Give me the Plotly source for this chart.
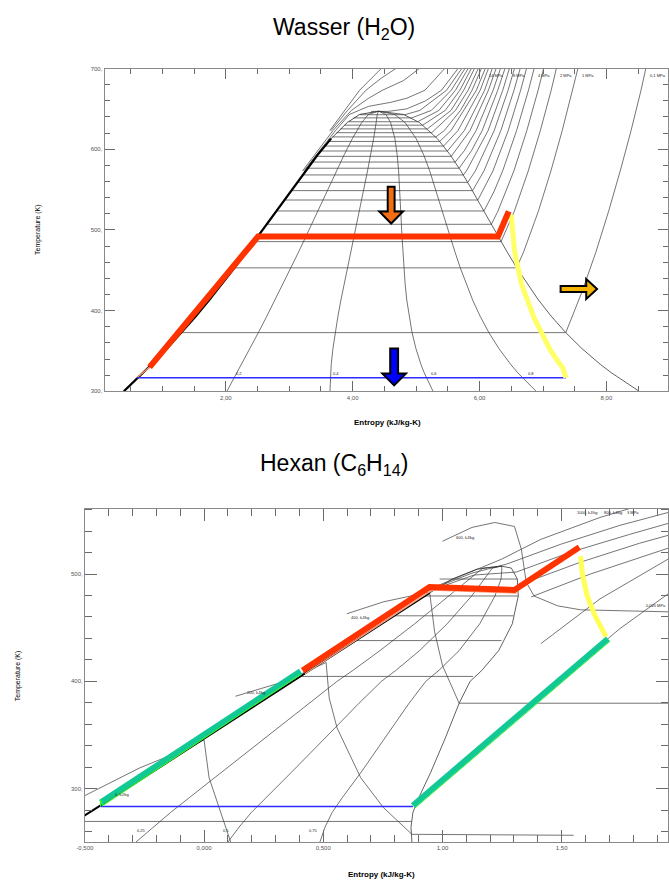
import plotly.graph_objects as go

# ---------------- Wasser (H2O) ----------------
# saturation curve
W_SAT_T = [300.0, 313.15, 323.15, 333.15, 353.15, 373.15, 393.15, 413.15, 433.15, 453.15,
           473.15, 493.15, 513.15, 533.15, 553.15, 573.15, 593.15, 613.15, 633.15, 643.15, 647.1]
W_SAT_SF = [0.393, 0.572, 0.704, 0.831, 1.075, 1.307, 1.528, 1.739, 1.943, 2.139,
            2.331, 2.518, 2.702, 2.884, 3.067, 3.254, 3.449, 3.660, 3.916, 4.111, 4.407]
W_SAT_SG = [8.517, 8.256, 8.075, 7.908, 7.611, 7.354, 7.129, 6.929, 6.750, 6.585,
            6.431, 6.283, 6.140, 5.998, 5.855, 5.705, 5.537, 5.336, 5.053, 4.800, 4.407]
W_LIQ_THICK_END = 17   # thick liquid line drawn up to 613 K

# isobars (MPa) with saturation data
W_P = [0.1, 1, 2, 3, 4, 5, 6, 7, 8, 9, 10, 11, 12, 13, 14, 15, 16, 17, 18, 19, 20, 21, 22]
W_P_TSAT = [372.76, 453.03, 485.53, 507.00, 523.50, 537.09, 548.73, 558.98, 568.16, 576.48,
            584.15, 591.23, 597.83, 603.95, 609.66, 615.31, 620.51, 625.24, 629.84, 634.09,
            638.90, 642.78, 646.90]
W_P_SF = [1.303, 2.138, 2.447, 2.646, 2.797, 2.921, 3.028, 3.122, 3.208, 3.287, 3.360, 3.430,
          3.496, 3.561, 3.623, 3.685, 3.746, 3.808, 3.872, 3.940, 4.015, 4.110, 4.290]
# superheated branches (T in K, s in kJ/kg-K), starting at saturated vapour
W_SH_T = [
    [372.76, 423.15, 473.15, 523.15, 573.15, 623.15, 673.15, 700.0],
    [453.03, 473.15, 523.15, 573.15, 623.15, 673.15, 700.0],
    [485.53, 523.15, 573.15, 623.15, 673.15, 700.0],
    [507.00, 523.15, 573.15, 623.15, 673.15, 700.0],
    [523.50, 548.15, 573.15, 623.15, 673.15, 700.0],
    [537.09, 573.15, 623.15, 673.15, 700.0],
    [548.73, 573.15, 623.15, 673.15, 700.0],
    [558.98, 573.15, 623.15, 673.15, 700.0],
    [568.16, 573.15, 623.15, 673.15, 700.0],
    [576.48, 598.15, 623.15, 673.15, 700.0],
    [584.15, 598.15, 623.15, 673.15, 700.0],
    [591.23, 623.15, 673.15, 700.0],
    [597.83, 623.15, 673.15, 700.0],
    [603.95, 623.15, 673.15, 700.0],
    [609.66, 623.15, 673.15, 700.0],
    [615.31, 623.15, 648.15, 673.15, 700.0],
    [620.51, 648.15, 673.15, 700.0],
    [625.24, 648.15, 673.15, 700.0],
    [629.84, 648.15, 673.15, 700.0],
    [634.09, 648.15, 673.15, 700.0],
    [638.90, 648.15, 673.15, 700.0],
    [642.78, 648.15, 673.15, 700.0],
    [646.90, 650.0, 660.0, 673.15, 700.0],
]
W_SH_S = [
    [7.359, 7.614, 7.836, 8.034, 8.217, 8.388, 8.545, 8.620],
    [6.585, 6.696, 6.927, 7.125, 7.303, 7.467, 7.550],
    [6.339, 6.548, 6.768, 6.958, 7.129, 7.210],
    [6.186, 6.289, 6.541, 6.745, 6.923, 7.010],
    [6.070, 6.231, 6.364, 6.584, 6.771, 6.860],
    [5.974, 6.211, 6.452, 6.648, 6.740],
    [5.890, 6.070, 6.336, 6.543, 6.640],
    [5.815, 5.934, 6.231, 6.450, 6.550],
    [5.745, 5.794, 6.135, 6.366, 6.470],
    [5.679, 5.873, 6.042, 6.287, 6.400],
    [5.616, 5.760, 5.946, 6.214, 6.330],
    [5.554, 5.850, 6.140, 6.260],
    [5.494, 5.760, 6.080, 6.200],
    [5.434, 5.660, 6.010, 6.140],
    [5.372, 5.550, 5.950, 6.090],
    [5.311, 5.444, 5.700, 5.882, 6.030],
    [5.246, 5.620, 5.820, 5.980],
    [5.178, 5.550, 5.750, 5.920],
    [5.104, 5.460, 5.690, 5.870],
    [5.025, 5.360, 5.620, 5.820],
    [4.933, 5.240, 5.554, 5.770],
    [4.820, 5.060, 5.480, 5.720],
    [4.560, 4.850, 5.150, 5.400, 5.660],
]
# supercritical isobars (25, 30, 35, 40 MPa)
W_SC_T = [
    [573.15, 623.15, 643.15, 653.15, 658.15, 663.15, 673.15, 700.0],
    [573.15, 623.15, 648.15, 663.15, 673.15, 685.0, 700.0],
    [623.15, 648.15, 673.15, 688.0, 700.0],
    [623.15, 673.15, 700.0],
]
W_SC_S = [
    [3.23, 3.73, 3.95, 4.25, 4.60, 4.85, 5.14, 5.45],
    [3.21, 3.69, 3.98, 4.25, 4.47, 4.80, 5.05],
    [3.66, 3.92, 4.21, 4.45, 4.68],
    [3.64, 4.11, 4.45],
]
W_QUALITY = [0.2, 0.4, 0.6, 0.8]
W_QUALITY_TXT = ["0,2", "0,4", "0,6", "0,8"]
W_P_LABELLED = [0, 1, 2, 4, 8, 14]

# Rankine cycle
W_RED_S = [0.80, 2.51, 6.29, 6.46]
W_RED_T = [330.0, 492.0, 492.0, 523.0]
W_YEL_S = [6.50, 6.55, 6.66, 6.86, 7.12, 7.32, 7.36]
W_YEL_T = [519.0, 474.0, 433.0, 391.0, 350.5, 328.0, 316.8]
W_BLUE_S = [7.36, 0.60]
W_BLUE_T = [316.8, 316.8]
W_PUMP_S = [0.60, 0.80]
W_PUMP_T = [316.8, 330.0]

# ---------------- Hexan (C6H14) ----------------
H_LIQ_S = [-0.714, -0.50, -0.434, 0.393, 0.946]
H_LIQ_T = [250.0, 275.0, 284.3, 402.8, 482.4]
H_TOP_S = [0.946, 1.041, 1.145, 1.248]
H_TOP_T = [482.4, 495.4, 504.6, 507.4]
H_SAT_T = [250.0, 263.9, 277.8, 291.7, 314.8, 347.2, 379.6, 400.0, 410.2, 428.7,
           453.7, 479.6, 495.4, 505.6, 507.4]
H_SAT_SF = [-0.673, -0.576, -0.479, -0.382, -0.221, 0.004, 0.230, 0.372, 0.444, 0.572,
            0.747, 0.927, 1.041, 1.130, 1.248]
H_SAT_SG = [0.872, 0.868, 0.876, 0.901, 0.950, 1.012, 1.070, 1.116, 1.165, 1.236,
            1.293, 1.318, 1.314, 1.289, 1.248]
H_QUALITY = [0.25, 0.5, 0.75]
H_QUALITY_TXT = ["0,25", "0,5", "0,75"]
# isotherms inside the dome
H_ISO_T = [495.4, 479.6, 461.1, 438.0, 404.6, 269.4]
H_ISO_S0 = [0.988, 0.926, 0.798, 0.636, 0.405, -0.50]
H_ISO_S1 = [1.314, 1.318, 1.298, 1.248, 1.128, 0.870]
# enthalpy lines (liquid branch, two-phase branch, vapour branch)
H_ENTH_S = [
    [-0.5, -0.459, -0.269, -0.116, 0.0, 0.021, 0.070, 0.112],
    [0.132, 0.339, 0.512, 0.525, 0.558, 0.657, 0.752, 0.872, 1.550],
    [0.599, 0.752, 0.946, 0.967, 1.0, 1.041, 1.070, 1.946],
    [1.000, 1.124, 1.219, 1.302, 1.331, 1.351, 1.384, 1.483, 1.579, 1.946],
]
H_ENTH_T = [
    [293.5, 298.1, 319.4, 333.3, 345.4, 310.2, 277.8, 250.0],
    [386.1, 400.0, 417.6, 384.3, 356.5, 310.2, 282.4, 257.4, 256.5],
    [463.0, 474.1, 483.3, 446.3, 414.8, 393.5, 379.6, 379.6],
    [530.6, 543.5, 548.1, 544.4, 523.1, 492.6, 479.6, 470.4, 466.7, 464.8],
]
H_ENTH_TXT = ["0, kJ/kg", "200, kJ/kg", "400, kJ/kg", "600, kJ/kg"]
H_ENTH_TXT_S = [-0.38, 0.17, 0.61, 1.05]
H_ENTH_TXT_T = [294.5, 390.0, 459.5, 534.5]
# lines of the vapour region (upper right)
H_VR_S = [
    [0.946, 1.124, 1.248, 1.413, 1.661, 1.785],
    [0.946, 1.124, 1.269, 1.496, 1.744, 1.946],
    [0.946, 1.132, 1.310, 1.537, 1.785, 1.946],
    [1.331, 1.579, 1.826, 1.946],
    [1.372, 1.620, 1.946],
    [1.413, 1.661, 1.946],
    [1.496, 1.744, 1.946],
]
H_VR_T = [
    [486.1, 502.8, 513.9, 532.4, 552.8, 561.1],
    [485.2, 500.9, 509.3, 527.8, 545.4, 557.4],
    [484.3, 499.1, 501.9, 520.4, 537.0, 547.2],
    [490.7, 511.1, 528.7, 536.1],
    [478.7, 500.0, 524.1],
    [435.2, 476.9, 513.9],
    [402.8, 449.1, 481.5],
]
H_TEAL1_S = [-0.434, 0.405]
H_TEAL1_T = [287.0, 409.3]
H_RED_S = [0.413, 0.946, 1.302, 1.574]
H_RED_T = [410.2, 488.0, 485.2, 525.0]
H_YEL_S = [1.579, 1.587, 1.607, 1.640, 1.686]
H_YEL_T = [516.7, 500.0, 479.6, 461.1, 441.7]
H_TEAL2_S = [1.694, 0.876]
H_TEAL2_T = [439.8, 284.3]
H_BLUE_S = [0.876, -0.434]
H_BLUE_T = [283.3, 283.3]
H_GREEN_S = [-0.434, -0.434, -0.426, 0.405]
H_GREEN_T = [283.3, 289.8, 284.3, 406.5]

# ---------------- layout geometry ----------------
W, H = 669, 883
X1_RANGE = [0.09, 8.97]
Y1_RANGE = [300, 700]
X1_DOM = [97 / W, 1.0]
Y1_DOM = [1 - 391 / H, 1 - 66 / H]
X2_RANGE = [-0.5, 1.946]
Y2_RANGE = [250, 561.1]
X2_DOM = [77 / W, 1.0]
Y2_DOM = [1 - 845 / H, 1 - 509 / H]

KX1 = (X1_DOM[1] - X1_DOM[0]) * W / (X1_RANGE[1] - X1_RANGE[0])
KY1 = (Y1_DOM[1] - Y1_DOM[0]) * H / (Y1_RANGE[1] - Y1_RANGE[0])

GRID = "#3a3a3a"
fig = go.Figure()


def line(xs, ys, ax, color=GRID, width=0.7):
    xa, ya = ("x", "y") if ax == 1 else ("x2", "y2")
    fig.add_trace(go.Scatter(x=xs, y=ys, xaxis=xa, yaxis=ya, mode="lines",
                             line=dict(color=color, width=width),
                             hoverinfo="skip", showlegend=False))


def label(x, y, text, ax, size=4):
    xa, ya = ("x", "y") if ax == 1 else ("x2", "y2")
    fig.add_annotation(x=x, y=y, xref=xa, yref=ya, text=text, showarrow=False,
                       font=dict(size=size, color="#222", family="Liberation Sans"),
                       xanchor="left", yanchor="middle")


# ---- water: grid lines ----
for i, p in enumerate(W_P):
    line([W_P_SF[i], W_SH_S[i][0]], [W_P_TSAT[i], W_P_TSAT[i]], 1)
    line(W_SH_S[i], W_SH_T[i], 1)
for s_list, t_list in zip(W_SC_S, W_SC_T):
    line(s_list, t_list, 1)
for q, txt in zip(W_QUALITY, W_QUALITY_TXT):
    qs = [sf + q * (sg - sf) for sf, sg in zip(W_SAT_SF, W_SAT_SG)]
    line(qs, W_SAT_T, 1)
    s_lab = W_SAT_SF[1] + q * (W_SAT_SG[1] - W_SAT_SF[1])
    label(s_lab + 0.02, 322.0, txt, 1)
line(W_SAT_SG, W_SAT_T, 1, width=0.8)
line(W_SAT_SF, W_SAT_T, 1, width=0.9)
line(W_SAT_SF[:W_LIQ_THICK_END + 1], W_SAT_T[:W_LIQ_THICK_END + 1], 1, color="black", width=2.2)

# isobar labels along the top
for i in W_P_LABELLED:
    txt = ("%g MPa" % W_P[i]).replace(".", ",")
    label(W_SH_S[i][-1] + 0.03, 692, txt, 1)

# ---- water: cycle ----
line(W_PUMP_S, W_PUMP_T, 1, color="#F39060", width=1.5)
line(W_BLUE_S, W_BLUE_T, 1, color="#2B2BFF", width=1.6)
line(W_YEL_S, W_YEL_T, 1, color="#FFFF66", width=5)
line(W_RED_S, W_RED_T, 1, color="#FF3300", width=6)

# ---- hexane: grid lines ----
for t, s0, s1 in zip(H_ISO_T, H_ISO_S0, H_ISO_S1):
    line([s0, s1], [t, t], 2)
for s_list, t_list in zip(H_ENTH_S, H_ENTH_T):
    line(s_list, t_list, 2)
for s_list, t_list in zip(H_VR_S, H_VR_T):
    line(s_list, t_list, 2)
for q, txt in zip(H_QUALITY, H_QUALITY_TXT):
    qs = [sf + q * (sg - sf) for sf, sg in zip(H_SAT_SF, H_SAT_SG)]
    line(qs, H_SAT_T, 2)
    s_lab = H_SAT_SF[1] + q * (H_SAT_SG[1] - H_SAT_SF[1])
    label(s_lab - 0.075, 261.0, txt, 2)
for txt, s, t in zip(H_ENTH_TXT, H_ENTH_TXT_S, H_ENTH_TXT_T):
    label(s, t, txt, 2)
label(1.845, 471.0, "0,005 MPa", 2)
label(1.555, 557.5, "1000, kJ/kg", 2)
label(1.67, 557.0, "800, kJ/kg", 2)
label(1.765, 557.5, "3 MPa", 2)
line(H_SAT_SG, H_SAT_T, 2, width=0.8)
line(H_TOP_S, H_TOP_T, 2, width=0.9)
line(H_LIQ_S, H_LIQ_T, 2, color="black", width=2)

# ---- hexane: cycle ----
line(H_BLUE_S, H_BLUE_T, 2, color="#2B2BFF", width=1.6)
line(H_TEAL1_S, H_TEAL1_T, 2, color="#12C995", width=6)
line(H_TEAL2_S, H_TEAL2_T, 2, color="#12C995", width=6)
line(H_GREEN_S, H_GREEN_T, 2, color="#33EE33", width=1.2)
line([s + 0.008 for s in H_TEAL2_S], [t - 2.5 for t in H_TEAL2_T], 2, color="#33EE33", width=1.0)
line([s + 0.01 for s in H_RED_S[:3]], [t - 3.0 for t in H_RED_T[:3]], 2, color="#FFA080", width=1.2)
line(H_YEL_S, H_YEL_T, 2, color="#FFFF55", width=5)
line(H_RED_S, H_RED_T, 2, color="#FF3300", width=6)


# ---- block arrows ----
def block_arrow(tip_x, tip_y, direction, color, length=37, half_head=12, half_shaft=3.5, head=12):
    """Arrow shape sized in pixels, placed on the water axes."""
    if direction == "down":
        pts = [(0, 0), (-half_head, head), (-half_shaft, head), (-half_shaft, length),
               (half_shaft, length), (half_shaft, head), (half_head, head)]
    else:  # right
        pts = [(0, 0), (-head, half_head), (-head, half_shaft), (-length, half_shaft),
               (-length, -half_shaft), (-head, -half_shaft), (-head, -half_head)]
    conv = [(tip_x + dx / KX1, tip_y + dy / KY1) for dx, dy in pts]
    path = "M " + " L ".join("%.4f,%.4f" % p for p in conv) + " Z"
    fig.add_shape(type="path", path=path, xref="x", yref="y", fillcolor=color,
                  line=dict(color="black", width=2), layer="above")


block_arrow(4.607, 508.0, "down", "#F26E12")
block_arrow(4.654, 307.4, "down", "#0000FF", half_shaft=4)
block_arrow(7.852, 426.8, "right", "#F5B400", half_head=10, half_shaft=3, head=11)

# ---- axes ----
TICKFONT = dict(size=6, color="#555", family="Liberation Sans")


def axis(dom, rng, tickvals, ticktext, minor_dtick, minor_tick0, ticklen, minor_len, anchor):
    return dict(domain=dom, range=rng, anchor=anchor, showline=True, linecolor="#8a8a8a",
                linewidth=1, mirror="ticks", ticks="inside", ticklen=ticklen, tickwidth=1,
                tickcolor="#6a6a6a", tickmode="array", tickvals=tickvals, ticktext=ticktext,
                tickfont=TICKFONT, showgrid=False, zeroline=False,
                minor=dict(ticks="inside", ticklen=minor_len, tickcolor="#6a6a6a",
                           tickmode="linear", dtick=minor_dtick, tick0=minor_tick0, showgrid=False))


fig.update_layout(
    width=W, height=H, margin=dict(l=0, r=0, t=0, b=0),
    paper_bgcolor="white", plot_bgcolor="white",
    xaxis=axis(X1_DOM, X1_RANGE, [2, 4, 6, 8], ["2,00", "4,00", "6,00", "8,00"], 0.5, 0, 10, 5, "y"),
    yaxis=axis(Y1_DOM, Y1_RANGE, [300, 400, 500, 600, 700], ["300,", "400,", "500,", "600,", "700,"],
               20, 300, 10, 5, "x"),
    xaxis2=axis(X2_DOM, X2_RANGE, [-0.5, 0, 0.5, 1.0, 1.5], ["-0,500", "0,000", "0,500", "1,00", "1,50"],
                0.1, 0, 12, 7, "y2"),
    yaxis2=axis(Y2_DOM, Y2_RANGE, [300, 400, 500], ["300,", "400,", "500,"], 20, 300, 12, 7, "x2"),
)

# titles and axis titles
TITLE_FONT = dict(size=23, color="black", family="Liberation Sans")
fig.add_annotation(x=340 / W, y=1 - 26 / H, xref="paper", yref="paper", text="Wasser (H<sub>2</sub>O)",
                   showarrow=False, font=TITLE_FONT, xanchor="center", yanchor="middle")
fig.add_annotation(x=330 / W, y=1 - 465 / H, xref="paper", yref="paper",
                   text="Hexan (C<sub>6</sub>H<sub>14</sub>)",
                   showarrow=False, font=TITLE_FONT, xanchor="center", yanchor="middle")
AX_FONT = dict(size=7, color="black", family="Liberation Sans")
fig.add_annotation(x=30 / W, y=1 - 228 / H, xref="paper", yref="paper", text="Temperature (K)",
                   textangle=-90, showarrow=False, font=AX_FONT, xanchor="center", yanchor="middle")
fig.add_annotation(x=10 / W, y=1 - 677 / H, xref="paper", yref="paper", text="Temperature (K)",
                   textangle=-90, showarrow=False, font=AX_FONT, xanchor="center", yanchor="middle")
AXB_FONT = dict(size=8, color="black", family="Liberation Sans")
fig.add_annotation(x=384 / W, y=1 - 422 / H, xref="paper", yref="paper", text="<b>Entropy (kJ/kg-K)</b>",
                   showarrow=False, font=AXB_FONT, xanchor="center", yanchor="middle")
fig.add_annotation(x=378 / W, y=1 - 877 / H, xref="paper", yref="paper", text="<b>Entropy (kJ/kg-K)</b>",
                   showarrow=False, font=AXB_FONT, xanchor="center", yanchor="middle")

fig.write_html("out.html")
